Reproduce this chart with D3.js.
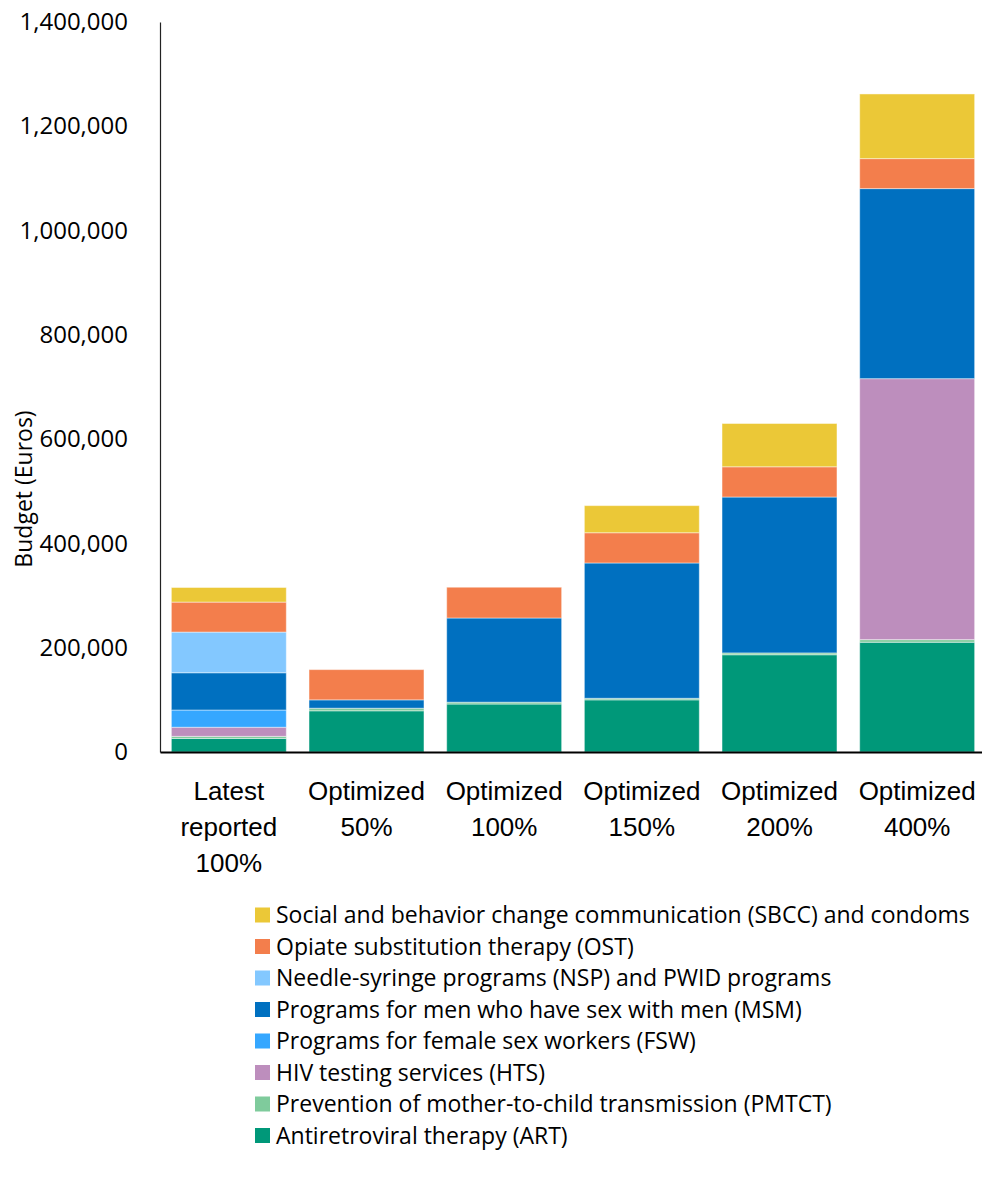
<!DOCTYPE html>
<html>
<head>
<meta charset="utf-8">
<script src="https://cdn.jsdelivr.net/npm/d3@7"></script>
<style>
  html, body { margin: 0; padding: 0; background: #fff; }
  svg { display: block; font-family: "Open Sans", "Noto Sans", sans-serif; }
</style>
</head>
<body>
<svg id="chart" width="982" height="1182"></svg>
<script>
// ---- Data ----
const categories = [
  ["Latest", "reported", "100%"],
  ["Optimized", "50%"],
  ["Optimized", "100%"],
  ["Optimized", "150%"],
  ["Optimized", "200%"],
  ["Optimized", "400%"]
];
const programs = ["ART", "PMTCT", "HTS", "FSW", "MSM", "NSP", "OST", "SBCC"];
const programLabels = [
  "Antiretroviral therapy (ART)",
  "Prevention of mother-to-child transmission (PMTCT)",
  "HIV testing services (HTS)",
  "Programs for female sex workers (FSW)",
  "Programs for men who have sex with men (MSM)",
  "Needle-syringe programs (NSP) and PWID programs",
  "Opiate substitution therapy (OST)",
  "Social and behavior change communication (SBCC) and condoms"
];
const programColors = ["#009879", "#7fcb9c", "#bd8ebd", "#35a7ff", "#0070c0", "#83c8ff", "#f37e4c", "#ebc837"];

const ART   = [26000, 79000, 92000, 100000, 186500, 210500];
const PMTCT = [4000, 5000, 3500, 3000, 3500, 5000];
const HTS   = [17500, 0, 0, 0, 0, 500500];
const FSW   = [33000, 0, 0, 0, 0, 0];
const MSM   = [71500, 16000, 161500, 259500, 299000, 364500];
const NSP   = [78000, 0, 0, 0, 0, 0];
const OST   = [57500, 58000, 59000, 58000, 58000, 57500];
const SBCC  = [28000, 0, 0, 52000, 83000, 124000];

const yTicks = [0, 200000, 400000, 600000, 800000, 1000000, 1200000, 1400000];

// ---- Build table ----
const seriesValues = [ART, PMTCT, HTS, FSW, MSM, NSP, OST, SBCC];
const table = categories.map((c, i) => {
  const row = { key: i };
  programs.forEach((p, j) => row[p] = seriesValues[j][i]);
  return row;
});

const svg = d3.select("#chart");
const x = d3.scaleBand().domain(d3.range(categories.length)).range([160, 986]).paddingInner(0.165).paddingOuter(0.0825);
const y = d3.scaleLinear().domain([0, 1400000]).range([752, 22]);

const stack = d3.stack().keys(programs)(table);

svg.append("g").selectAll("g").data(stack).join("g")
  .attr("fill", (d, i) => programColors[i])
  .selectAll("rect").data(d => d.filter(s => s[1] - s[0] > 0)).join("rect")
  .attr("x", d => x(d.data.key))
  .attr("width", x.bandwidth())
  .attr("y", d => y(d[1]))
  .attr("height", d => y(d[0]) - y(d[1]))
  .attr("stroke", "rgba(255,255,255,0.45)")
  .attr("stroke-width", 1);

// Y axis
const yAxis = d3.axisLeft(y).tickValues(yTicks).tickSize(0).tickPadding(32).tickFormat(d3.format(","));
const gy = svg.append("g").attr("transform", "translate(160,0)").call(yAxis);
gy.select(".domain").attr("stroke", "#222").attr("stroke-width", 1.2);
gy.selectAll("text").attr("font-size", 24).attr("fill", "#000").attr("font-family", "Open Sans");

// X axis
const xAxis = d3.axisBottom(x).tickSize(0).tickFormat(() => "");
const gx = svg.append("g").attr("transform", "translate(0,752)").call(xAxis);
gx.select(".domain").attr("stroke", "#000").attr("stroke-width", 2.2);
gx.selectAll(".tick").each(function(d) {
  const t = d3.select(this).append("text")
    .attr("text-anchor", "middle").attr("fill", "#000").attr("font-size", 26);
  categories[d].forEach((line, k) => {
    t.append("tspan").attr("x", 0).attr("y", 48 + k * 36).text(line);
  });
});

// Y title
svg.append("text")
  .attr("transform", "translate(32,489) rotate(-90)")
  .attr("text-anchor", "middle")
  .attr("font-size", 23)
  .attr("fill", "#000")
  .text("Budget (Euros)");

// Legend (reverse order)
const legendOrder = d3.range(programs.length).reverse();
const lg = svg.append("g").selectAll("g").data(legendOrder).join("g")
  .attr("transform", (d, i) => `translate(255,${915 + i * 31.5})`);
lg.append("rect").attr("x", 0).attr("y", -7.5).attr("width", 15).attr("height", 15)
  .attr("fill", d => programColors[d]);
lg.append("text").attr("x", 21).attr("y", 0).attr("dy", "0.35em")
  .attr("font-size", 23).attr("fill", "#000")
  .text(d => programLabels[d]);
</script>
</body>
</html>
